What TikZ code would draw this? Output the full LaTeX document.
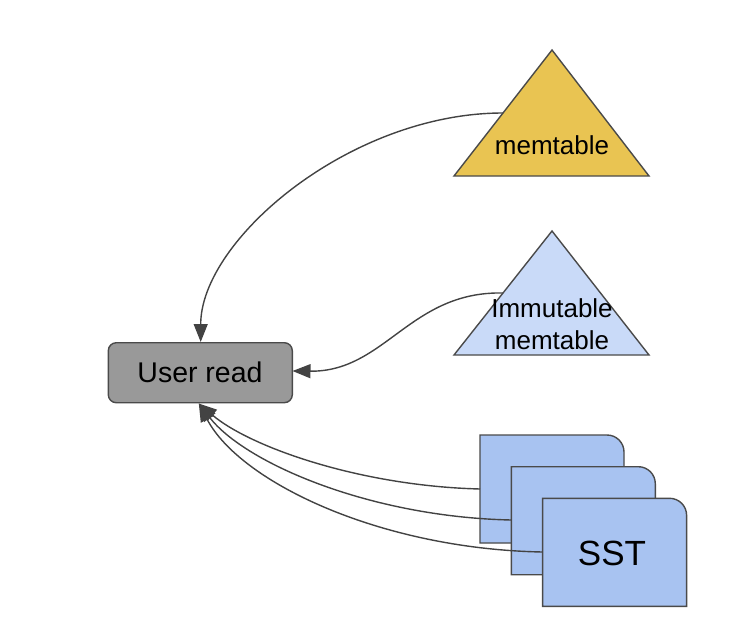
\documentclass[tikz,border=0pt]{standalone}
\usepackage{fontspec}
\setmainfont{Liberation Sans}
\usetikzlibrary{arrows.meta}
\definecolor{memfill}{HTML}{E9C452}
\definecolor{immfill}{HTML}{C9DAF8}
\definecolor{sstfill}{HTML}{A8C3F1}
\definecolor{boxfill}{HTML}{999999}
\definecolor{edgecol}{HTML}{4A4A4A}
\definecolor{linecol}{HTML}{434343}
\tikzset{
  shapeline/.style={draw=edgecol, line width=1.4pt, line join=miter},
  conn/.style={draw=linecol, line width=1.4pt, -{Triangle[length=18pt,width=14pt]}},
  trilabel/.style={font=\fontsize{26}{31.6}\selectfont, anchor=base, inner sep=0pt, align=center},
  readbox/.style={shapeline, fill=boxfill, rounded corners=8pt, minimum width=184pt, minimum height=60pt, inner sep=0pt, font=\fontsize{28}{32}\selectfont},
}
\begin{document}
\begin{tikzpicture}[x=1pt,y=-1pt]
\useasboundingbox (0,0) rectangle (752,642);
% triangles
\draw[shapeline, fill=memfill] (552,50) -- (649,176) -- (454,176) -- cycle;
\draw[shapeline, fill=immfill] (552,231) -- (649,355) -- (454,355) -- cycle;
\node[trilabel] (mem) at (552,154.3) {memtable};
\node[trilabel] (imm) at (552,349.3) {Immutable\\memtable};
\coordinate (memout) at (503,113);
\coordinate (immout) at (503,293);
% user read box
\node[readbox] (ur) at (200.3,372.7) {};
\node[font=\fontsize{28.5}{32}\selectfont, anchor=base, inner sep=0pt] (urt) at (200,382.7) {User read};
% SST cards
\foreach \i/\x/\y in {1/480/435, 2/511.3/466.7, 3/542.6/498.3} {
  \draw[shapeline, fill=sstfill] (\x,\y+108) -- (\x,\y) -- (\x+127,\y)
     .. controls (\x+136.4,\y) and (\x+144,\y+7.6) .. (\x+144,\y+17) -- (\x+144,\y+108) -- cycle;
}
\node[font=\fontsize{35}{40}\selectfont, anchor=base, inner sep=0pt] (sst) at (612,565.7) {SST};
\coordinate (s1) at (480,489);
\coordinate (s2) at (511.3,520);
\coordinate (s3) at (542.6,552);
\coordinate (urtop) at (200.7,342);
\coordinate (urright) at (292.5,371);
\coordinate (urbot) at (198.8,403.5);
% connectors
\draw[conn] (memout) .. controls (350,113) and (200.7,240) .. (urtop);
\draw[conn] (immout) .. controls (410,291) and (385,372) .. (urright);
\draw[conn] (s1) .. controls (360,486) and (250,447) .. (urbot);
\draw[conn] (s2) .. controls (370,517) and (245,463) .. (urbot);
\draw[conn] (s3) .. controls (380,549) and (240,482) .. (urbot);
\end{tikzpicture}
\end{document}
